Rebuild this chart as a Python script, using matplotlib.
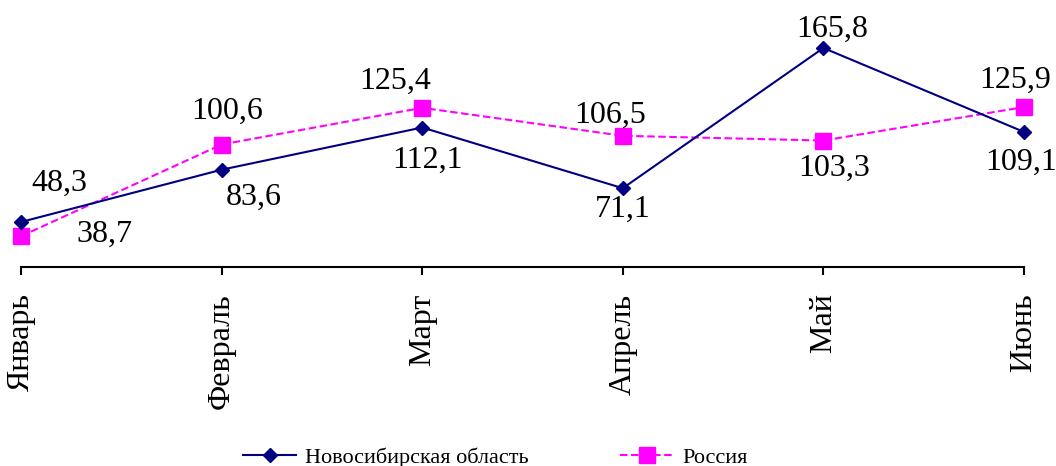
import matplotlib
matplotlib.use("Agg")
import matplotlib.pyplot as plt

months = ["Январь", "Февраль", "Март", "Апрель", "Май", "Июнь"]
nsk_name = "Новосибирская область"
rus_name = "Россия"
nsk = [48.3, 83.6, 112.1, 71.1, 165.8, 109.1]
rus = [38.7, 100.6, 125.4, 106.5, 103.3, 125.9]

# label offsets in pixels (dx, dy) relative to the point
nsk_off = [(38, 31), (32, -35), (5, -40), (0, -29), (9, 11), (-3, -38)]
rus_off = [(83, -6), (6, 26), (-27, 19), (-13, 13), (11, -35), (-9, 19)]

plt.rcParams['font.family'] = ['Liberation Serif', 'DejaVu Serif']

fig = plt.figure(figsize=(10.56, 4.66), dpi=100)
ax = fig.add_axes([21/1056, (466-267)/466, (1024-21)/1056, 267/466])

x = list(range(len(months)))
ax.plot(x, nsk, color='#000080', lw=1.5, marker='D', ms=7.2,
        markerfacecolor='#000080', markeredgecolor='#000080', label=nsk_name,
        clip_on=False, zorder=3)
ax.plot(x, rus, color='#FF00FF', lw=1.5, ls=(0, (3.6, 1.7)), marker='s', ms=11,
        markerfacecolor='#FF00FF', markeredgecolor='#FF00FF', label=rus_name,
        clip_on=False, zorder=2)

fs = 23
for i, v in enumerate(nsk):
    ax.annotate(f"{v:.1f}".replace('.', ','), (i, v), xytext=nsk_off[i],
                textcoords='offset pixels', ha='center', va='baseline',
                fontsize=fs, annotation_clip=False)
for i, v in enumerate(rus):
    ax.annotate(f"{v:.1f}".replace('.', ','), (i, v), xytext=rus_off[i],
                textcoords='offset pixels', ha='center', va='baseline',
                fontsize=fs, annotation_clip=False)

ax.set_xlim(0, 5)
ax.set_ylim(17.9, 48.3 + 222/1.481)
ax.set_yticks([])
for s in ['top', 'right', 'left']:
    ax.spines[s].set_visible(False)
ax.spines['bottom'].set_linewidth(1.5)
ax.set_xticks(x)
ax.set_xticklabels(months, rotation=90, fontsize=23)
ax.tick_params(axis='x', direction='out', length=6, width=1.5, pad=13)

fig.legend(loc='center', bbox_to_anchor=(0.469, 0.018), ncol=2, frameon=False,
           fontsize=16, handlelength=2.4, handletextpad=0.4, columnspacing=4.1,
           borderpad=0, borderaxespad=0)

fig.savefig("out.png", dpi=100)
